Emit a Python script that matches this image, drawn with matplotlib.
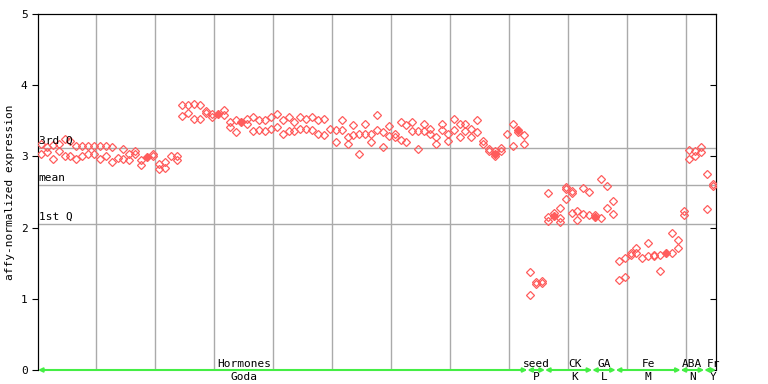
import numpy as np
import matplotlib
matplotlib.use("Agg")
import matplotlib.pyplot as plt

# expression values, one column per sample
# (two replicates per column: upper / lower, NaN where only one is visible)
nan = np.nan
upper = [3.17, 3.13, 3.16, 3.17, 3.24, 3.21, 3.15, 3.15, 3.15, 3.15,
         3.15, 3.15, 3.13, 2.98, 3.10, 3.03, 3.07, 2.95, nan, 3.03,
         2.89, 2.92, 3.01, 3.01, 3.72, 3.72, 3.74, 3.72, 3.64, 3.59,
         nan, 3.65, 3.49, 3.51, nan, 3.52, 3.55, 3.51, 3.51, 3.56,
         3.59, 3.51, 3.56, 3.49, 3.56, 3.52, 3.55, 3.51, 3.53, 3.39,
         3.37, 3.51, 3.27, 3.44, 3.32, 3.46, 3.32, 3.58, 3.34, 3.42,
         3.32, 3.48, 3.44, 3.49, 3.35, 3.45, 3.39, 3.27, 3.45, 3.32,
         3.53, 3.46, 3.46, 3.38, 3.51, 3.21, 3.11, 3.07, 3.12, 3.32,
         3.45, nan, 3.30, 1.37, 1.24, 1.25, 2.48, 2.20, 2.28, 2.57,
         2.52, 2.23, 2.55, 2.50, 2.18, 2.68, 2.58, 2.38, 1.53, 1.58,
         1.65, 1.71, 1.57, 1.78, 1.62, 1.62, nan, 1.93, 1.82, 2.23,
         3.09, 3.07, 3.13, 2.75, 2.61]
lower = [3.04, 3.06, 2.96, 3.08, 3.01, 3.00, 2.97, 3.00, 3.03, 3.03,
         2.97, 3.00, 2.92, nan, 2.97, 2.95, 3.03, 2.88, nan, 3.01,
         2.83, 2.84, nan, 2.95, 3.57, 3.61, 3.53, 3.53, 3.61, 3.55,
         nan, 3.58, 3.41, 3.34, nan, 3.46, 3.35, 3.37, 3.35, 3.38,
         3.41, 3.31, 3.35, 3.35, 3.39, 3.39, 3.37, 3.31, 3.30, nan,
         3.20, 3.37, 3.17, 3.30, 3.04, 3.32, 3.20, 3.37, 3.13, 3.28,
         3.27, 3.23, 3.20, 3.35, 3.10, 3.35, 3.31, 3.18, 3.37, 3.21,
         3.37, 3.27, 3.35, 3.27, 3.34, 3.18, 3.08, 3.00, 3.08, nan,
         3.14, 3.34, 3.18, 1.05, 1.21, 1.22, 2.15, nan, 2.14, 2.40,
         2.20, 2.11, 2.19, 2.18, nan, 2.13, 2.27, 2.19, 1.27, 1.30,
         1.62, 1.64, nan, 1.60, 1.60, 1.39, nan, 1.64, 1.72, 2.17,
         2.96, 3.00, 3.06, 2.26, 2.58]
extra_idx = [86, 88, 89, 90]
extra_val = [2.09, 2.08, 2.54, 2.49]
filled_idx = [18, 30, 34, 77, 81, 87, 94, 106]
filled_val = [2.99, 3.59, 3.49, 3.03, 3.37, 2.16, 2.15, 1.64]

q3, mean, q1 = 3.12, 2.60, 2.05

# sample groups: (top label, bottom label, first column, last column, label column)
groups = [("Hormones", "Goda", 0, 82, 34.4),
          ("seed", "P", 83, 85, 84),
          ("CK", "K", 86, 93, 90.5),
          ("GA", "L", 94, 97, 95.5),
          ("Fe", "M", 98, 108, 103),
          ("ABA", "N", 109, 112, 110.5),
          ("Fr", "Y", 113, 114, 114)]

plt.rcParams['font.family'] = ['DejaVu Sans Mono']
fig = plt.figure(figsize=(7.68, 3.84), dpi=100)
ax = fig.add_axes([38/768, 14/384, 678/768, 356/384])

# right-side ticks point inward (drawn underneath the main axes)
ax2 = ax.twinx()
ax2.set_ylim(0, 5)
ax2.set_yticks(range(6))
ax2.tick_params(axis='y', direction='in', length=4, labelright=False)
ax2.spines['bottom'].set_visible(False)
ax2.set_zorder(0)
ax.set_zorder(1)
ax.patch.set_visible(False)

x = np.arange(len(upper))
red = '#ff5c5c'
mk = dict(marker='D', ms=3.6, mfc='none', mec=red, mew=0.9, ls='none', zorder=4)
ax.plot(x, upper, **mk)
ax.plot(x, lower, **mk)
ax.plot(extra_idx, extra_val, **mk)
ax.plot(filled_idx, filled_val, marker='D', ms=4, color=red, ls='none', zorder=4)

for val, name in [(q3, "3rd Q"), (mean, "mean"), (q1, "1st Q")]:
    ax.axhline(val, color='#aaaaaa', lw=1, zorder=1)
    ax.text(-0.4, val + 0.03, name, fontsize=8, va='bottom', ha='left', zorder=5)

ax.set_xlim(-0.5, 114.5)
ax.set_ylim(0, 5)
ax.set_xticks(np.arange(9.34, 114.5, 10))
ax.xaxis.grid(True, color='#aaaaaa', lw=1)
ax.set_axisbelow(True)
ax.tick_params(axis='x', length=0, labelbottom=False)
ax.set_yticks(range(6))
ax.tick_params(axis='y', direction='out', length=4, labelsize=8)
ax.set_ylabel("affy-normalized expression", fontsize=8, labelpad=4)
ax.spines['bottom'].set_visible(False)

green = '#44ee44'
for top, bottom, a, b, c in groups:
    ax.annotate('', xy=(a - 0.5, 0), xytext=(b + 0.5, 0),
                arrowprops=dict(arrowstyle='<|-|>', color=green, lw=1.5,
                                mutation_scale=6, shrinkA=0, shrinkB=0),
                annotation_clip=False, zorder=6)
    ax.text(c, 0.02, top, fontsize=8, ha='center', va='bottom')
    ax.text(c, -0.03, bottom, fontsize=8, ha='center', va='top', clip_on=False)

fig.savefig("out.png", dpi=100)
